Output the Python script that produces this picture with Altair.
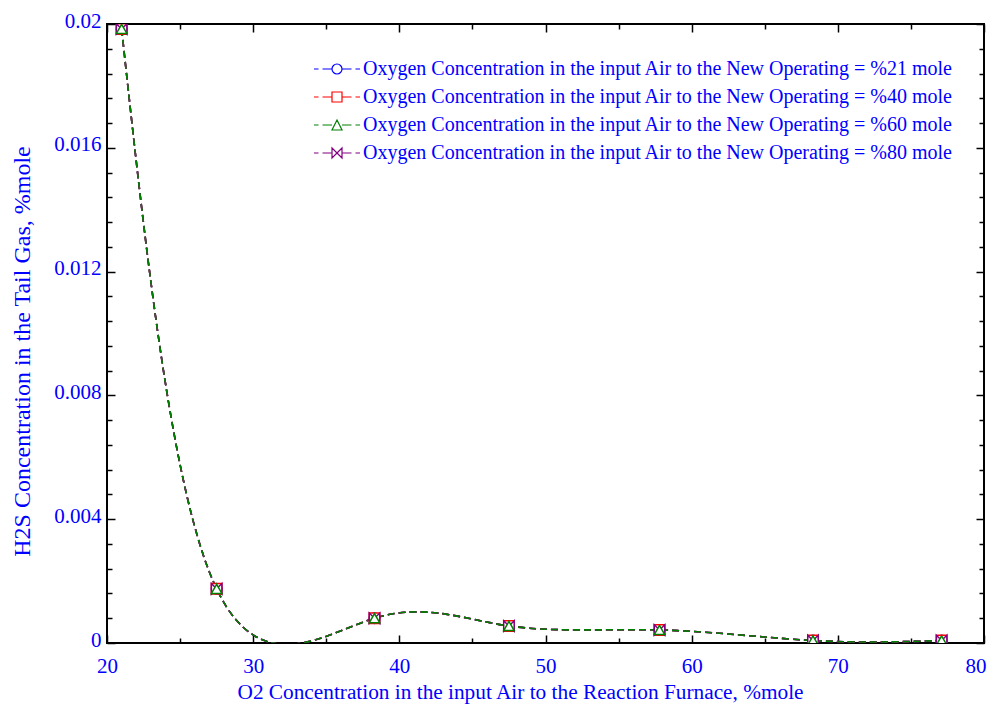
import altair as alt
import pandas as pd

# ---------------- data ----------------
x_o2 = [21.0, 27.5, 38.3, 47.5, 57.8, 68.3, 77.1]
h2s_21 = [0.01984, 0.00175, 0.00080, 0.00055, 0.00042, 0.00008, 0.00008]
h2s_40 = [0.01984, 0.00175, 0.00080, 0.00055, 0.00042, 0.00008, 0.00008]
h2s_60 = [0.01984, 0.00175, 0.00080, 0.00055, 0.00042, 0.00008, 0.00008]
h2s_80 = [0.01984, 0.00175, 0.00080, 0.00055, 0.00042, 0.00008, 0.00008]

series_names = [
    "Oxygen Concentration in the input Air to the New Operating = %21 mole",
    "Oxygen Concentration in the input Air to the New Operating = %40 mole",
    "Oxygen Concentration in the input Air to the New Operating = %60 mole",
    "Oxygen Concentration in the input Air to the New Operating = %80 mole",
]
series_colors = ["#0000FF", "#FF0000", "#008000", "#800080"]

x_major = [20, 30, 40, 50, 60, 70, 80]
x_minor = [25, 35, 45, 55, 65, 75]
y_major = [0, 0.004, 0.008, 0.012, 0.016, 0.02]
y_minor = [0.0008, 0.0016, 0.0024, 0.0032, 0.0048, 0.0056, 0.0064, 0.0072,
           0.0088, 0.0096, 0.0104, 0.0112, 0.0128, 0.0136, 0.0144, 0.0152,
           0.0168, 0.0176, 0.0184, 0.0192]

x_title = "O2 Concentration in the input Air to the Reaction Furnace, %mole"
y_title = "H2S Concentration in the Tail Gas, %mole"

# drawing order: 21, 40, 80, 60 (green drawn last, on top)
draw_order = [0, 1, 3, 2]
all_y = [h2s_21, h2s_40, h2s_60, h2s_80]
rows = []
for i in draw_order:
    for xv, yv in zip(x_o2, all_y[i]):
        rows.append({"x": xv, "y": yv, "series": series_names[i]})
df = pd.DataFrame(rows)

# plot markers
bowtie = "M-1,-1L1,1L1,-1L-1,1Z"
plot_shapes = ["circle", "square", "triangle-up", bowtie]

# legend symbols: dashed line with marker in the middle
dashes = "M-4.6,0H-3.7M-2.9,0H-1M1,0H2.9M3.7,0H4.6"
legend_shapes = [
    dashes + "M1,0A1,1 0 1,1 -1,0A1,1 0 1,1 1,0Z",
    dashes + "M-1,-1H1V1H-1Z",
    dashes + "M0,-1L1,1H-1Z",
    dashes + "M-1,-1L1,1V-1L-1,1Z",
]

FONT = "Liberation Serif"
BLUE = "#0000FF"

xscale = alt.Scale(domain=[20, 80], nice=False, zero=False)
yscale = alt.Scale(domain=[0, 0.02], nice=False, zero=False)


def cscale():
    return alt.Scale(domain=series_names, range=series_colors)


def ax(orient, values, size, labels=False, title=None, fmt=None, lpad=0, tpad=0,
       loff=0, extra=None):
    kw = dict(orient=orient, values=values, tickSize=alt.ExprRef(expr=str(-size)),
              labels=labels, domain=False, grid=False, ticks=True,
              tickColor="black", tickWidth=1.5)
    if labels:
        kw["labelPadding"] = lpad
        kw["labelOffset"] = loff
        kw["labelFlush"] = False
    if title is not None:
        kw["title"] = title
        kw["titlePadding"] = tpad
    else:
        kw["title"] = None
    if fmt:
        kw["format"] = fmt
    if extra:
        kw.update(extra)
    return alt.Axis(**kw)


base = alt.Chart(df)

lines = base.mark_line(interpolate="natural", strokeDash=[7, 4], strokeWidth=1.6,
                       clip=True).encode(
    x=alt.X("x:Q", scale=xscale,
            axis=ax("bottom", x_major, 8, labels=True, title=x_title, lpad=12 + 8, tpad=5,
                    loff={"condition": {"test": "datum.value >= 80", "value": 2}, "value": 0},
                    extra={"titleX": 413, "titleAlign": "center",
                           "labelAlign": {"condition": {"test": "datum.value >= 80",
                                                        "value": "right"},
                                          "value": "center"}})),
    y=alt.Y("y:Q", scale=yscale,
            axis=ax("left", y_major, 8, labels=True, title=y_title, fmt="~g",
                    lpad=6 + 8, tpad=19, loff=-3,
                    extra={"titleY": 327, "titleAlign": "center"})),
    color=alt.Color("series:N", scale=cscale(), legend=None),
    detail="series:N",
)

points = base.mark_point(filled=False, fill="white", size=110, strokeWidth=1.5, opacity=1,
                         fillOpacity=1, clip=True).encode(
    x=alt.X("x:Q", scale=xscale, axis=ax("bottom", x_minor, 5)),
    y=alt.Y("y:Q", scale=yscale, axis=ax("left", y_minor, 5)),
    color=alt.Color("series:N", scale=cscale(), legend=None),
    shape=alt.Shape("series:N", scale=alt.Scale(domain=series_names, range=plot_shapes),
                    legend=None),
)

leg_kw = dict(title=None, orient="none", legendX=220, legendY=35, padding=0,
              labelFont=FONT, labelFontSize=20, labelColor=BLUE, labelLimit=1000,
              labelOffset=16, rowPadding=8, symbolSize=100, symbolStrokeWidth=1.2,
              symbolOpacity=1)

legend_layer = base.mark_point(filled=False, size=100, opacity=0).encode(
    x=alt.X("x:Q", scale=xscale, axis=ax("top", x_major, 8)),
    y=alt.Y("y:Q", scale=yscale, axis=ax("right", y_major, 8)),
    color=alt.Color("series:N", scale=cscale(), legend=alt.Legend(**leg_kw)),
    shape=alt.Shape("series:N", scale=alt.Scale(domain=series_names, range=legend_shapes),
                    legend=alt.Legend(**leg_kw)),
)

minor_tr = base.mark_point(opacity=0).encode(
    x=alt.X("x:Q", scale=xscale, axis=ax("top", x_minor, 5)),
    y=alt.Y("y:Q", scale=yscale, axis=ax("right", y_minor, 5)),
)

chart = alt.layer(lines, points, minor_tr, legend_layer).resolve_scale(
    color="independent", shape="independent"
).resolve_axis(
    x="independent", y="independent"
).properties(
    width=877, height=619,
    autosize=alt.AutoSizeParams(type="none"),
    padding={"left": 99, "top": 16, "right": 3, "bottom": 62},
    background="white",
).configure_view(
    stroke="black", strokeWidth=2,
).configure_axis(
    labelFont=FONT, labelFontSize=21, labelColor=BLUE,
    titleFont=FONT, titleFontSize=21.3, titleColor=BLUE, titleFontWeight="normal",
).configure_axisLeft(
    titleFontSize=24,
)

chart.save("out.html", embed_options={"renderer": "svg", "actions": False})
